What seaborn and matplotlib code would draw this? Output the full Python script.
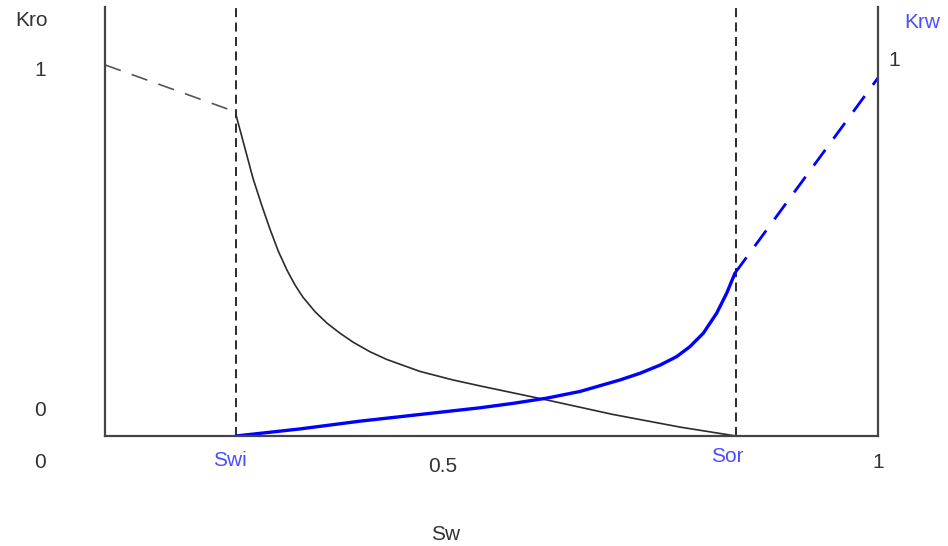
import pandas as pd
import seaborn as sns
import matplotlib
matplotlib.use("Agg")
import matplotlib.pyplot as plt

# Data
swi = 0.17
sor = 0.816

sw_kro = [0.1695, 0.1811, 0.1915, 0.2027, 0.2135, 0.2242, 0.2354, 0.2458, 0.2561,
          0.2717, 0.2872, 0.3040, 0.3208, 0.3428, 0.3648, 0.4075, 0.4502, 0.4851,
          0.5718, 0.6572, 0.7439, 0.8163]
kro = [0.865, 0.775, 0.694, 0.622, 0.557, 0.498, 0.447, 0.407, 0.374,
       0.335, 0.304, 0.277, 0.253, 0.227, 0.206, 0.174, 0.151, 0.135,
       0.097, 0.058, 0.024, 0.0]

sw_krw = [0.1695, 0.252, 0.330, 0.4851, 0.528, 0.5714, 0.6145, 0.6662, 0.6921,
          0.718, 0.7396, 0.7568, 0.774, 0.7913, 0.8043, 0.815]
krw = [0.0, 0.019, 0.040, 0.076, 0.088, 0.102, 0.120, 0.151, 0.169,
       0.191, 0.214, 0.241, 0.277, 0.331, 0.385, 0.439]

# extrapolated (dashed) parts
sw_kro_ext = [0.0, 0.1695]
kro_ext = [1.0, 0.873]
sw_krw_ext = [0.815, 1.0]
krw_ext = [0.439, 0.965]

sns.set_style("white")
plt.rcParams['font.family'] = ['Liberation Sans', 'DejaVu Sans']

fig = plt.figure(figsize=(9.48, 5.46), dpi=100)
ax = fig.add_axes([105 / 948, 110 / 546, 773 / 948, 429 / 546])

blue_txt = '#4d4dff'

sns.lineplot(x=sw_kro, y=kro, sort=False, color='#2b2b2b', linewidth=1.2, ax=ax)
sns.lineplot(x=sw_kro_ext, y=kro_ext, sort=False, color='#555555', linewidth=1.2,
             ax=ax).lines[-1].set_dashes([10, 7])
sns.lineplot(x=sw_krw, y=krw, sort=False, color='#0000ff', linewidth=2.4, ax=ax)
sns.lineplot(x=sw_krw_ext, y=krw_ext, sort=False, color='#0000ff', linewidth=2.0,
             ax=ax).lines[-1].set_dashes([7, 5])

for xv in (swi, sor):
    ax.axvline(xv, color='#1a1a1a', linewidth=1.3, linestyle=(0, (5, 3)), zorder=1)

ax.set_xlim(0, 1)
ax.set_ylim(0, 1.156)
ax.set_xticks([])
ax.set_yticks([])
ax.set_xlabel('')
ax.set_ylabel('')
for side in ('left', 'right', 'bottom'):
    ax.spines[side].set_color('#444444')
    ax.spines[side].set_linewidth(1.6)
ax.spines['top'].set_visible(False)

fs = 15
def txt(px, py, s, color='#333333'):
    fig.text(px / 948, 1 - py / 546, s, ha='center', va='center', fontsize=fs, color=color)

txt(31, 21, 'Kro')
txt(40, 70, '1')
txt(40, 410, '0')
txt(40, 462, '0')
txt(230, 460, 'Swi', blue_txt)
txt(443, 466, '0.5')
txt(727, 457, 'Sor', blue_txt)
txt(878, 463, '1')
txt(446, 535, 'Sw')
txt(922, 22, 'Krw', blue_txt)
txt(894, 60, '1')

fig.savefig('out.png', dpi=100)
